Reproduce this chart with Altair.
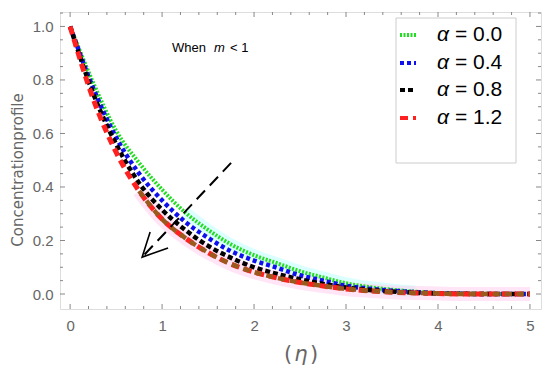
import altair as alt
import pandas as pd

# ---- data ----
eta = [0.0, 0.25, 0.5, 0.75, 1.0, 1.25, 1.5, 1.75, 2.0, 2.25, 2.5, 2.75,
       3.0, 3.25, 3.5, 3.75, 4.0, 4.25, 4.5, 4.75, 5.0]
alpha_00 = [1.00, 0.79, 0.61, 0.49, 0.39, 0.305, 0.24, 0.185, 0.145, 0.115, 0.085, 0.062,
            0.040, 0.026, 0.016, 0.009, 0.004, 0.002, 0.001, 0.0, 0.0]
alpha_04 = [1.00, 0.77, 0.585, 0.45, 0.35, 0.27, 0.21, 0.16, 0.125, 0.098, 0.070, 0.050,
            0.031, 0.020, 0.012, 0.007, 0.003, 0.001, 0.0, 0.0, 0.0]
alpha_08 = [1.00, 0.75, 0.56, 0.415, 0.315, 0.24, 0.18, 0.135, 0.10, 0.075, 0.055, 0.038,
            0.024, 0.015, 0.009, 0.005, 0.002, 0.001, 0.0, 0.0, 0.0]
alpha_12 = [1.00, 0.73, 0.53, 0.385, 0.28, 0.21, 0.155, 0.112, 0.082, 0.06, 0.043, 0.03,
            0.019, 0.012, 0.007, 0.004, 0.002, 0.0, 0.0, 0.0, 0.0]

legend_labels = ["= 0.0", "= 0.4", "= 0.8", "= 1.2"]
x_ticks = [0, 1, 2, 3, 4, 5]
y_ticks = [0.0, 0.2, 0.4, 0.6, 0.8, 1.0]
x_minor = [0.2, 0.4, 0.6, 0.8, 1.2, 1.4, 1.6, 1.8, 2.2, 2.4, 2.6, 2.8,
           3.2, 3.4, 3.6, 3.8, 4.2, 4.4, 4.6, 4.8]
y_minor = [0.05, 0.1, 0.15, 0.25, 0.3, 0.35, 0.45, 0.5, 0.55, 0.65, 0.7, 0.75,
           0.85, 0.9, 0.95, 1.05]

arrow_eta = [1.75, 0.783]
arrow_val = [0.49, 0.138]
head_eta = [0.87, 0.783, 1.065]
head_val = [0.232, 0.138, 0.172]

# ---- layout ----
W, H = 481, 297
GRAY = "#666666"
FONT = "Liberation Sans"

xscale = alt.Scale(domain=[-0.11, 5.12], nice=False, zero=False)
yscale = alt.Scale(domain=[-0.056, 1.054], nice=False, zero=False)
xaxis = alt.Axis(values=x_ticks, format="d", ticks=False, domain=False, grid=False,
                 labelFontSize=15, labelColor=GRAY, labelFont=FONT, labelPadding=9,
                 title=None)
yaxis = alt.Axis(values=y_ticks, format=".1f", ticks=False, domain=False, grid=False,
                 labelFontSize=15, labelColor=GRAY, labelFont=FONT, labelPadding=7,
                 title=None)


def X(f="eta"):
    return alt.X(f"{f}:Q", scale=xscale, axis=xaxis)


def Y(f="v"):
    return alt.Y(f"{f}:Q", scale=yscale, axis=yaxis)


def series_df(vals):
    return pd.DataFrame({"eta": eta, "v": vals})


layers = []

# faint halos seen in the reference
g_df = series_df(alpha_00)
layers.append(alt.Chart(g_df).transform_filter("datum.eta >= 1.2 && datum.eta <= 3.8")
              .mark_line(color="#b8ffff", strokeWidth=12, opacity=0.5, interpolate="monotone")
              .encode(x=X(), y=Y()))
r_df = series_df(alpha_12)
layers.append(alt.Chart(r_df).transform_filter("datum.eta >= 0.75")
              .mark_line(color="#ffd0ee", strokeWidth=14, opacity=0.55, interpolate="monotone")
              .encode(x=X(), y=Y()))

styles = [
    (alpha_00, "#22dd22", [2, 1.5], 4),
    (alpha_04, "#1010ee", [4, 3], 4.5),
    (alpha_08, "#000000", [5, 3], 4.5),
    (alpha_12, "#ff2020", [8, 5], 5),
]
for vals, col, dash, sw in styles:
    layers.append(alt.Chart(series_df(vals))
                  .mark_line(color=col, strokeDash=dash, strokeWidth=sw, interpolate="monotone")
                  .encode(x=X(), y=Y()))

# lower part of the lowest curve appears brown in the reference
layers.append(alt.Chart(r_df).transform_filter("datum.eta >= 0.75")
              .mark_line(color="#9a5a1e", strokeDash=[7, 5], strokeWidth=4.5, interpolate="monotone")
              .encode(x=X(), y=Y()))

# arrow
adf = pd.DataFrame({"eta": arrow_eta, "v": arrow_val, "i": [0, 1]})
layers.append(alt.Chart(adf).mark_line(color="black", strokeWidth=2, strokeDash=[12, 7])
              .encode(x=X(), y=Y(), order="i:Q"))
hdf = pd.DataFrame({"eta": head_eta, "v": head_val, "i": [0, 1, 2]})
layers.append(alt.Chart(hdf).mark_line(color="black", strokeWidth=1.6)
              .encode(x=X(), y=Y(), order="i:Q"))

# inside ticks (frame style)
tick_col = "#888888"
for vals, ln in [(x_ticks, 5), (x_minor, 3)]:
    tdf = pd.DataFrame({"eta": vals})
    layers.append(alt.Chart(tdf).mark_rule(color=tick_col, strokeWidth=1)
                  .encode(x=X(), y=alt.value(H), y2=alt.value(H - ln)))
    layers.append(alt.Chart(tdf).mark_rule(color=tick_col, strokeWidth=1)
                  .encode(x=X(), y=alt.value(0), y2=alt.value(ln)))
for vals, ln in [(y_ticks, 5), (y_minor, 3)]:
    tdf = pd.DataFrame({"v": vals})
    layers.append(alt.Chart(tdf).mark_rule(color=tick_col, strokeWidth=1)
                  .encode(y=Y(), x=alt.value(0), x2=alt.value(ln)))
    layers.append(alt.Chart(tdf).mark_rule(color=tick_col, strokeWidth=1)
                  .encode(y=Y(), x=alt.value(W), x2=alt.value(W - ln)))

one = pd.DataFrame({"k": [0]})

# legend box
layers.append(alt.Chart(one).mark_rect(fill="white", stroke="#cccccc", strokeWidth=1)
              .encode(x=alt.value(336), x2=alt.value(456), y=alt.value(6), y2=alt.value(151)))
leg_rows = [23, 51, 78, 106]
for (vals, col, dash, sw), yy, lab in zip(styles, leg_rows, legend_labels):
    layers.append(alt.Chart(one).mark_rule(color=col, strokeDash=dash, strokeWidth=4)
                  .encode(x=alt.value(340), x2=alt.value(356), y=alt.value(yy)))
    layers.append(alt.Chart(one).mark_text(text="α", fontStyle="italic", font=FONT,
                                           fontSize=21, align="left", baseline="middle", color="black")
                  .encode(x=alt.value(377), y=alt.value(yy)))
    layers.append(alt.Chart(one).mark_text(text=lab, font=FONT, fontSize=21, align="left",
                                           baseline="middle", color="black")
                  .encode(x=alt.value(395), y=alt.value(yy)))

# annotation "When m < 1"
layers.append(alt.Chart(one).mark_text(text="When", font=FONT, fontSize=13, align="left",
                                       baseline="alphabetic", color="black")
              .encode(x=alt.value(112), y=alt.value(40)))
layers.append(alt.Chart(one).mark_text(text="m", font=FONT, fontSize=13, fontStyle="italic",
                                       align="left", baseline="alphabetic", color="black")
              .encode(x=alt.value(154), y=alt.value(40)))
layers.append(alt.Chart(one).mark_text(text="< 1", font=FONT, fontSize=13, align="left",
                                       baseline="alphabetic", color="black")
              .encode(x=alt.value(170), y=alt.value(40)))

# axis titles
layers.append(alt.Chart(one).mark_text(text="Concentrationprofile", font="DejaVu Sans",
                                       fontSize=15, angle=270, align="center", baseline="middle",
                                       color=GRAY)
              .encode(x=alt.value(-42), y=alt.value(158)))
for t, xx, st in [("(", 228, "normal"), ("η", 241, "italic"), (")", 254, "normal")]:
    layers.append(alt.Chart(one).mark_text(text=t, font="DejaVu Sans", fontSize=21, fontStyle=st,
                                           align="center", baseline="middle", color=GRAY)
                  .encode(x=alt.value(xx), y=alt.value(343)))

chart = alt.layer(*layers).properties(
    width=W, height=H,
    autosize=alt.AutoSizeParams(type="none"),
    padding={"left": 52, "top": 4, "right": 1, "bottom": 62},
).configure_view(stroke="#999999", strokeWidth=1).configure(background="white")

chart.save("out.html", embed_options={"renderer": "svg", "actions": False})
